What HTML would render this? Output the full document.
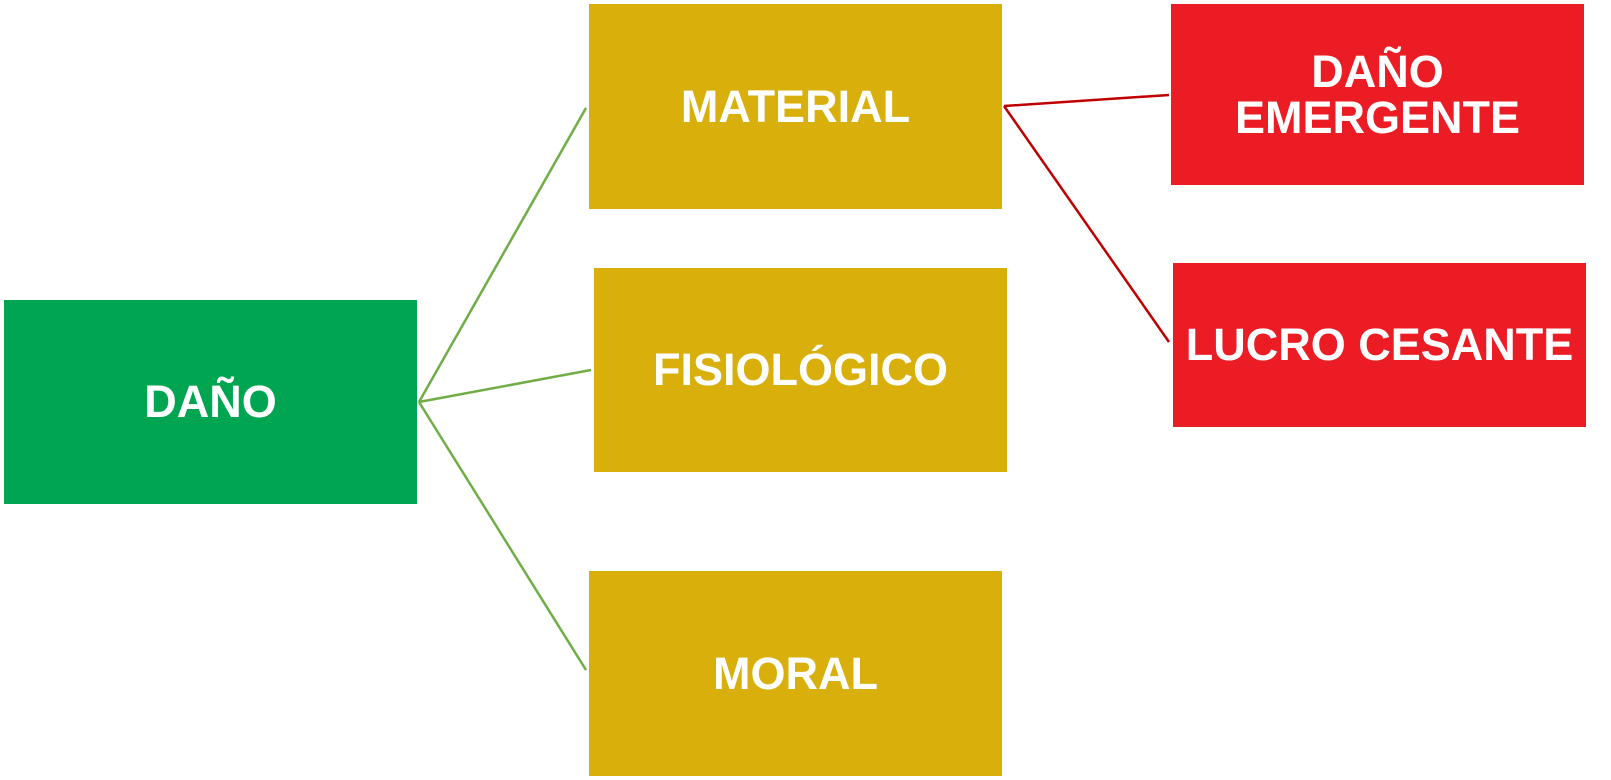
<!DOCTYPE html>
<html><head><meta charset="utf-8"><style>
html,body{margin:0;padding:0;background:#fff;}
body{width:1611px;height:780px;position:relative;overflow:hidden;font-family:"Liberation Sans",Arial,sans-serif;}
.b{position:absolute;display:flex;align-items:center;justify-content:center;text-align:center;color:#fff;font-weight:bold;font-size:45px;line-height:46px;}
.g{background:#00a551;}
.y{background:#d8af0b;}
.r{background:#ec1c24;}
svg{position:absolute;left:0;top:0;}
</style></head><body>
<svg width="1611" height="780">
<line x1="419" y1="402" x2="586" y2="108" stroke="#70ad47" stroke-width="2.5"/>
<line x1="419" y1="402" x2="591" y2="370" stroke="#70ad47" stroke-width="2.5"/>
<line x1="419" y1="402" x2="586" y2="670" stroke="#70ad47" stroke-width="2.5"/>
<line x1="1004" y1="106" x2="1169" y2="95" stroke="#c00000" stroke-width="2.5"/>
<line x1="1004" y1="106" x2="1169" y2="342" stroke="#c00000" stroke-width="2.5"/>
</svg>
<div class="b g" style="left:4px;top:300px;width:413px;height:204px;">DAÑO</div>
<div class="b y" style="left:589px;top:4px;width:413px;height:205px;">MATERIAL</div>
<div class="b y" style="left:594px;top:268px;width:413px;height:204px;">FISIOLÓGICO</div>
<div class="b y" style="left:589px;top:571px;width:413px;height:205px;">MORAL</div>
<div class="b r" style="left:1171px;top:4px;width:413px;height:181px;">DAÑO<br>EMERGENTE</div>
<div class="b r" style="left:1173px;top:263px;width:413px;height:164px;">LUCRO CESANTE</div>
</body></html>
